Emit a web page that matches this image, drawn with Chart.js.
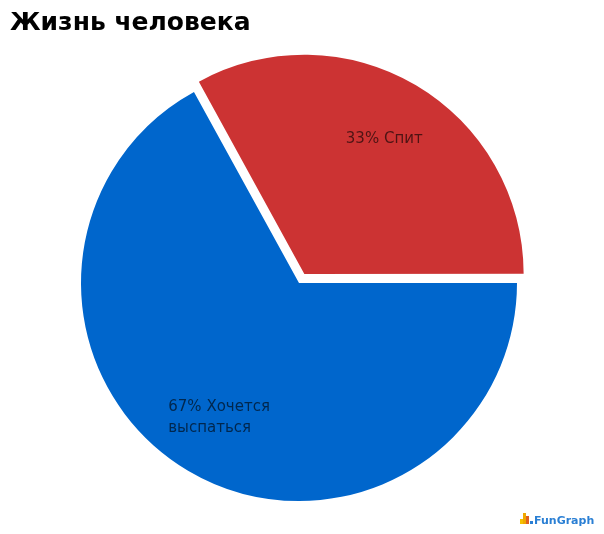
<!DOCTYPE html>
<html>
<head>
<meta charset="utf-8">
<style>
  html, body { margin: 0; padding: 0; background: #ffffff; }
  #wrap { width: 604px; height: 534px; position: relative; }
  canvas { display: block; }
</style>
<script src="https://cdn.jsdelivr.net/npm/chart.js@4/dist/chart.umd.min.js"></script>
</head>
<body>
<div id="wrap"><canvas id="c" width="604" height="534"></canvas></div>
<script>
const chartTitle = "Жизнь человека";
const categories = ["Спит", "Хочется выспаться"];
const values = [33, 67];
const labelLines = [["33% Спит"], ["67% Хочется", "выспаться"]];
const colors = ["#cc3333", "#0066cc"];
const offsets = [42, 0];
const logoText = "FunGraph";

const overlay = {
  id: "overlay",
  afterDatasetsDraw(chart) {
    const ctx = chart.ctx;
    const meta = chart.getDatasetMeta(0);
    ctx.save();
    ctx.font = "15px 'DejaVu Sans'";
    ctx.fillStyle = "rgba(0,0,0,0.62)";
    ctx.textBaseline = "middle";
    ctx.textAlign = "left";
    meta.data.forEach((arc, i) => {
      const p = arc.getProps(["x", "y", "startAngle", "endAngle", "outerRadius"], true);
      const mid = (p.startAngle + p.endAngle) / 2;
      const off = (offsets[i] || 0) / 4;
      const cx = p.x + Math.cos(mid) * (off + p.outerRadius * 0.72);
      const cy = p.y + Math.sin(mid) * (off + p.outerRadius * 0.72);
      const lines = labelLines[i];
      const lh = 21;
      const w = Math.max(...lines.map(l => ctx.measureText(l).width));
      const top = cy - (lines.length - 1) * lh / 2;
      lines.forEach((l, k) => ctx.fillText(l, cx - w / 2, top + k * lh));
    });
    ctx.restore();
  },
  afterDraw(chart) {
    const ctx = chart.ctx;
    ctx.save();
    ctx.fillStyle = "#000000";
    ctx.font = "bold 25px 'DejaVu Sans'";
    ctx.textBaseline = "alphabetic";
    ctx.textAlign = "left";
    ctx.fillText(chartTitle, 10, 30);
    // logo
    const bx = 520, by = 524;
    ctx.fillStyle = "#f5c000"; ctx.fillRect(bx, by - 5, 3, 5);
    ctx.fillStyle = "#f0a800"; ctx.fillRect(bx + 3, by - 11, 3, 11);
    ctx.fillStyle = "#e06020"; ctx.fillRect(bx + 6, by - 8, 3, 8);
    ctx.fillStyle = "#2a7fd4"; ctx.fillRect(bx + 10, by - 3, 3, 3);
    ctx.fillStyle = "#2a7fd4";
    ctx.font = "bold 11px 'DejaVu Sans'";
    ctx.fillText(logoText, 534, 524);
    ctx.restore();
  }
};

new Chart(document.getElementById("c"), {
  type: "pie",
  data: {
    labels: categories,
    datasets: [{
      data: values,
      backgroundColor: colors,
      borderWidth: 0,
      offset: offsets,
      radius: 218
    }]
  },
  options: {
    responsive: false,
    animation: false,
    rotation: -28.8,
    layout: { padding: { left: 0, right: 6, top: 32, bottom: 0 } },
    plugins: {
      legend: { display: false },
      title: { display: false },
      tooltip: { enabled: false }
    }
  },
  plugins: [overlay]
});
</script>
</body>
</html>
